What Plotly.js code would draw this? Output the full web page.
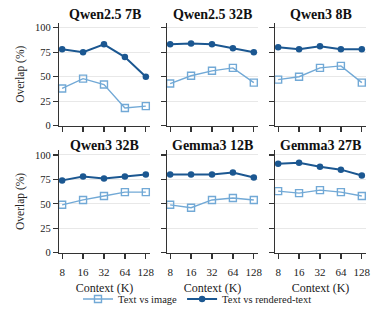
<!DOCTYPE html>
<html><head><meta charset="utf-8">
<script src="https://cdn.plot.ly/plotly-3.0.1.min.js"></script>
<style>html,body{margin:0;padding:0;background:#fff}#c{width:388px;height:309px}</style>
</head><body><div id="c"></div>
<script>
const contexts = ["8","16","32","64","128"];
const models = ["Qwen2.5 7B","Qwen2.5 32B","Qwen3 8B","Qwen3 32B","Gemma3 12B","Gemma3 27B"];
const textVsImage = [
  [38,48,42,18,20],
  [43,51,56,59,44],
  [47,50,59,61,44],
  [49,54,58,62,62],
  [49,46,54,56,54],
  [63,61,64,62,58]
];
const textVsRendered = [
  [78,75,83,70,50],
  [83,84,83,79,75],
  [80,78,81,78,78],
  [74,78,76,78,80],
  [80,80,80,82,77],
  [91,92,88,85,79]
];
const seriesNames = ["Text vs image","Text vs rendered-text"];
const yTicks = [0,25,50,75,100];

const W=388,H=309;
const colPx=[[59,150],[167,258],[275,366]];
const rowPx=[[22.8,125.7],[150.1,252.7]];
const light="#72a9d6", dark="#1b5791";
const font="Liberation Serif";

const traces=[]; const layout={
  width:W,height:H,margin:{l:0,r:0,t:0,b:0,autoexpand:false},paper_bgcolor:"#fff",plot_bgcolor:"#fff",
  font:{family:font,color:"#222",size:10},
  showlegend:true,
  legend:{orientation:"h",x:0.509,xanchor:"center",y:1-299/H,yanchor:"middle",font:{family:font,size:10.5,color:"#222"},
    bgcolor:"rgba(0,0,0,0)",tracegroupgap:0},
  annotations:[]
};
models.forEach((m,i)=>{
  const r=Math.floor(i/3), c=i%3, n=i+1;
  const xa="x"+(n===1?"":n), ya="y"+(n===1?"":n);
  traces.push({x:contexts,y:textVsImage[i],xaxis:xa,yaxis:ya,type:"scatter",mode:"lines+markers",name:seriesNames[0],
    line:{color:light,width:1.4},marker:{symbol:"square-open",size:7,color:light,line:{width:1.4,color:light}},
    showlegend:i===0,legendgroup:"a",cliponaxis:false});
  traces.push({x:contexts,y:textVsRendered[i],xaxis:xa,yaxis:ya,type:"scatter",mode:"lines+markers",name:seriesNames[1],
    line:{color:dark,width:2},marker:{symbol:"circle",size:6.5,color:dark},
    showlegend:i===0,legendgroup:"b",cliponaxis:false});
  const xk="xaxis"+(n===1?"":n), yk="yaxis"+(n===1?"":n);
  layout[xk]={domain:[colPx[c][0]/W,colPx[c][1]/W],anchor:ya,type:"category",range:[-0.15,4.2],
    showline:true,linecolor:"#333",linewidth:1.2,ticks:"outside",ticklen:5,tickcolor:"#333",tickwidth:1.2,
    showgrid:false,zeroline:false,showticklabels:r===1,tickfont:{family:font,size:11,color:"#222"},automargin:false,
    ticklabelstandoff:4,
    title:r===1?{text:"Context (K)",font:{family:font,size:12,color:"#222"},standoff:6}:{text:""}};
  layout[yk]={domain:[1-rowPx[r][1]/H,1-rowPx[r][0]/H],anchor:xa,range:[0,105],tickvals:yTicks,
    showline:true,linecolor:"#333",linewidth:1.2,ticks:"outside",ticklen:5,tickcolor:"#333",tickwidth:1.2,
    showgrid:true,gridcolor:"#e8e8e8",gridwidth:1,zeroline:false,showticklabels:c===0,
    tickfont:{family:font,size:10.5,color:"#222"},automargin:false,
    title:c===0?{text:"Overlap (%)",font:{family:font,size:11.5,color:"#222"},standoff:8}:{text:""}};
  layout.annotations.push({text:"<b>"+m+"</b>",xref:"paper",yref:"paper",
    x:(colPx[c][0]+colPx[c][1])/2/W,y:1-(r===0?15:145)/H,xanchor:"center",yanchor:"middle",showarrow:false,
    font:{family:font,size:14,color:"#111"}});
});
Plotly.newPlot("c",traces,layout,{staticPlot:true,displayModeBar:false});
</script></body></html>
